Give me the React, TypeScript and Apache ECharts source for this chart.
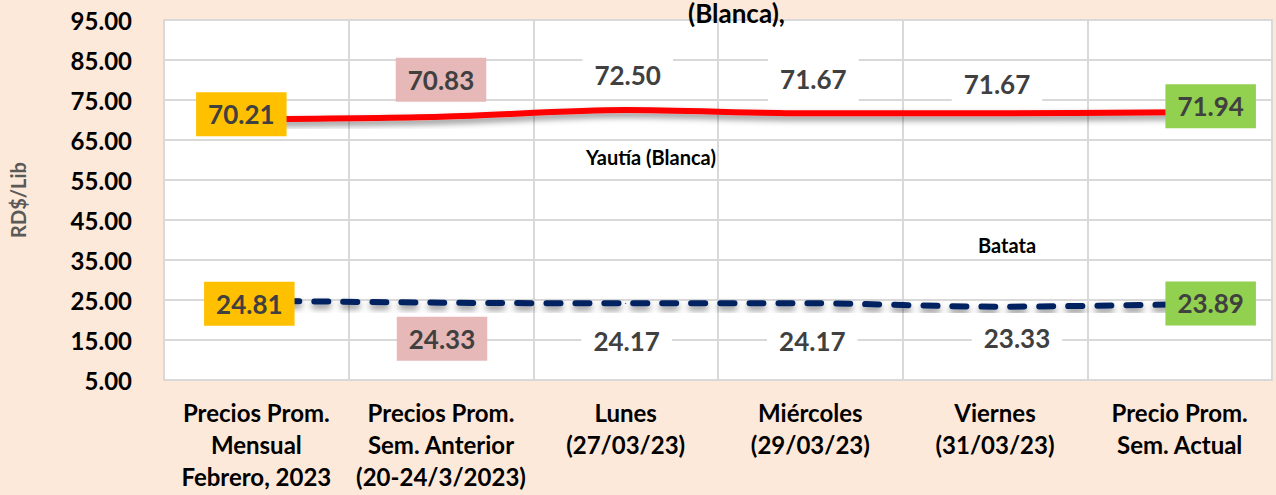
import React, { useEffect, useRef } from "react";
import * as echarts from "echarts";

const categories = [
  "Precios Prom.\nMensual\nFebrero, 2023",
  "Precios Prom.\nSem. Anterior\n(20-24/3/2023)",
  "Lunes\n(27/03/23)",
  "Miércoles\n(29/03/23)",
  "Viernes\n(31/03/23)",
  "Precio Prom.\nSem. Actual",
];
const yautiaName = "Yautía (Blanca)";
const yautiaValues = [70.21, 70.83, 72.5, 71.67, 71.67, 71.94];
const batataName = "Batata";
const batataValues = [24.81, 24.33, 24.17, 24.17, 23.33, 23.89];
const yMin = 5;
const yMax = 95;
const yStep = 10;
const titleText = "(Blanca),";
const yAxisTitle = "RD$/Lib";

// label styling (not data)
const labelBg = ["#FFC000", "#E6B8B7", "#FFFFFF", "#FFFFFF", "#FFFFFF", "#92D050"];
const yautiaOffsets = [[-15, -5], [0, -37], [2, -35], [3, -34], [2, -29], [31, -6]];
const batataOffsets = [[-7, 3], [1, 36], [1, 38], [2, 38], [22, 31], [31, -1]];

const FONT = "Lato, 'Open Sans', sans-serif";

function buildData(values: number[], offsets: number[][]) {
  return values.map((v, i) => ({
    value: v,
    label: {
      offset: offsets[i],
      backgroundColor: labelBg[i],
    },
  }));
}

export default function App() {
  const ref = useRef<HTMLDivElement>(null);
  useEffect(() => {
    if (!ref.current) return;
    const chart = echarts.init(ref.current, undefined, { renderer: "svg" });
    const baseLabel = {
      show: true,
      position: "inside",
      formatter: (p: any) => Number(p.value).toFixed(2),
      fontFamily: FONT,
      fontWeight: "bold",
      fontSize: 26,
      lineHeight: 26,
      color: "#404040",
      padding: [9, 12],
    };
    chart.setOption({
      animation: false,
      backgroundColor: "#FDE9D9",
      grid: {
        left: 164,
        right: 4,
        top: 20,
        bottom: 115,
        outerBoundsMode: "none",
        show: true,
        backgroundColor: "#FFFFFF",
        borderColor: "#D9D9D9",
        borderWidth: 2,
      },
      xAxis: {
        type: "category",
        data: categories,
        boundaryGap: true,
        axisLine: { show: false },
        axisTick: { show: false },
        splitLine: { show: true, interval: 0, lineStyle: { color: "#D9D9D9", width: 2 } },
        axisLabel: {
          interval: 0,
          margin: 16,
          fontFamily: FONT,
          fontWeight: "bold",
          fontSize: 24,
          lineHeight: 32,
          color: "#000000",
          align: "center",
        },
      },
      yAxis: {
        type: "value",
        min: yMin,
        max: yMax,
        interval: yStep,
        name: yAxisTitle,
        nameLocation: "middle",
        nameRotate: 90,
        nameGap: 136,
        nameTextStyle: {
          fontFamily: FONT,
          fontWeight: "bold",
          fontSize: 20,
          color: "#595959",
        },
        axisLine: { show: false },
        axisTick: { show: false },
        splitLine: { show: true, lineStyle: { color: "#D9D9D9", width: 2 } },
        axisLabel: {
          margin: 32,
          fontFamily: FONT,
          fontWeight: "bold",
          fontSize: 24,
          color: "#000000",
          formatter: (v: number) => v.toFixed(2),
        },
      },
      series: [
        {
          name: yautiaName,
          type: "line",
          data: buildData(yautiaValues, yautiaOffsets),
          smooth: 0.3,
          symbol: "circle",
          symbolSize: 1,
          itemStyle: { color: "#FF0000" },
          lineStyle: {
            color: "#FF0000",
            width: 6,
            shadowColor: "rgba(0,0,0,0.45)",
            shadowBlur: 6,
            shadowOffsetY: 4,
          },
          label: baseLabel,
          z: 3,
        },
        {
          name: batataName,
          type: "line",
          data: buildData(batataValues, batataOffsets),
          smooth: 0.3,
          symbol: "circle",
          symbolSize: 1,
          itemStyle: { color: "#002060" },
          lineStyle: {
            color: "#002060",
            width: 6,
            type: [14, 15],
            cap: "round",
            shadowColor: "rgba(0,0,0,0.45)",
            shadowBlur: 6,
            shadowOffsetY: 4,
          },
          label: baseLabel,
          z: 3,
        },
      ],
      graphic: [
        {
          type: "text",
          left: 746 - 58,
          top: 0,
          style: {
            text: titleText,
            fontFamily: FONT,
            fontWeight: "bold",
            fontSize: 26,
            fill: "#000000",
          },
          z: 10,
        },
        {
          type: "group",
          left: 563,
          top: 130,
          z: 5,
          children: [
            { type: "rect", shape: { x: 0, y: 0, width: 177, height: 62 }, style: { fill: "#FFFFFF" } },
            {
              type: "text",
              x: 88,
              y: 27,
              style: {
                text: yautiaName,
                fontFamily: FONT,
                fontWeight: "bold",
                fontSize: 20,
                fill: "#000000",
                align: "center",
                verticalAlign: "middle",
              },
            },
          ],
        },
        {
          type: "group",
          left: 925,
          top: 218,
          z: 5,
          children: [
            { type: "rect", shape: { x: 0, y: 0, width: 165, height: 66 }, style: { fill: "#FFFFFF" } },
            {
              type: "text",
              x: 82,
              y: 27,
              style: {
                text: batataName,
                fontFamily: FONT,
                fontWeight: "bold",
                fontSize: 20,
                fill: "#000000",
                align: "center",
                verticalAlign: "middle",
              },
            },
          ],
        },
      ],
    });
    return () => chart.dispose();
  }, []);
  return (
    <div
      ref={ref}
      style={{ position: "fixed", left: 0, top: 0, width: 1276, height: 495 }}
    />
  );
}
